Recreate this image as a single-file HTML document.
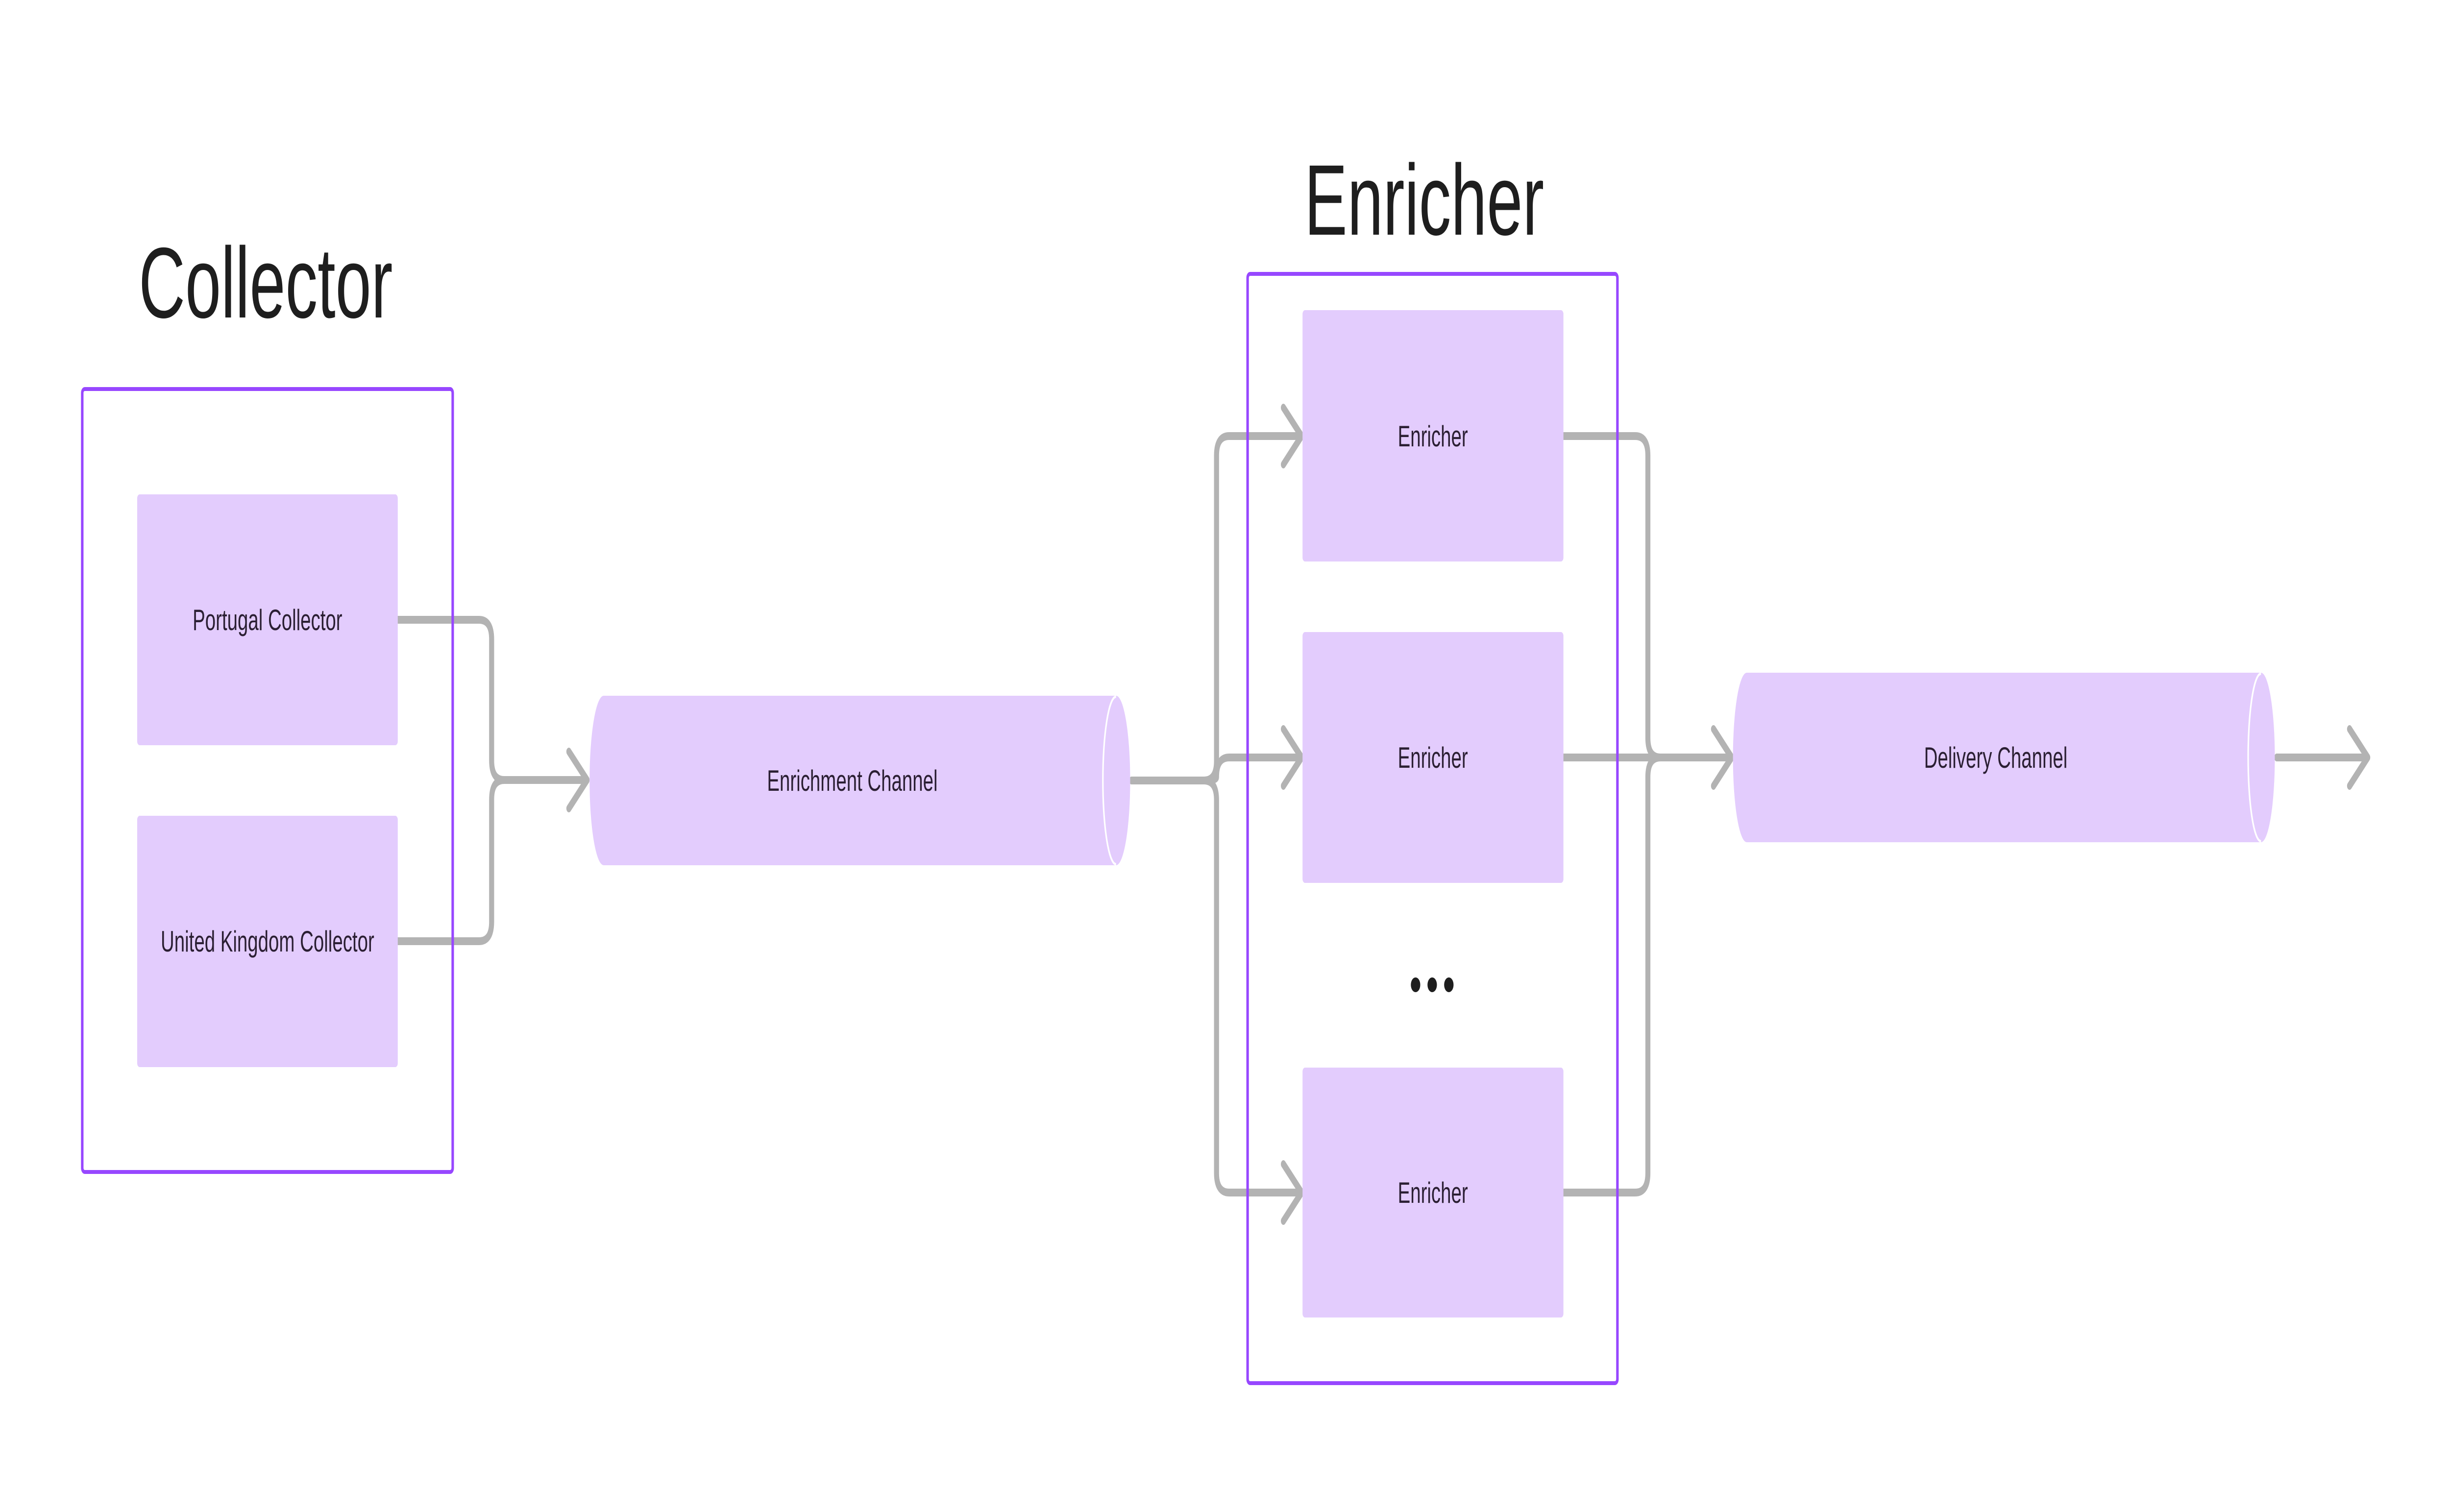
<!DOCTYPE html>
<html><head><meta charset="utf-8"><style>
html,body{margin:0;padding:0;background:#fff;width:100%;height:100%;overflow:hidden;}
svg{display:block;width:100vw;height:100vh;}
text{font-family:"Liberation Sans",sans-serif;}
</style></head><body>
<svg viewBox="0 0 7804 3086" preserveAspectRatio="none" xmlns="http://www.w3.org/2000/svg">
<rect width="7804" height="3086" fill="#fff"/>
<text x="442" y="648" font-size="205" fill="#1e1e1e">Collector</text>
<text x="4155" y="479" font-size="205" fill="#1e1e1e">Enricher</text>

<g fill="none" stroke="#b3b3b3" stroke-width="16" stroke-linecap="round" stroke-linejoin="round">
<path d="M1267,1265 H1526 Q1566,1265 1566,1305 V1552 Q1566,1592 1606,1592 H1868"/>
<path d="M1267,1921 H1526 Q1566,1921 1566,1881 V1632 Q1566,1592 1606,1592"/>
<polyline points="1812,1534 1870,1592 1812,1650"/>

<path d="M3604,1593 H3835 Q3875,1593 3875,1553 V930 Q3875,890 3915,890 H4144"/>
<path d="M3835,1593 Q3875,1593 3875,1586 Q3875,1546 3915,1546 H4144"/>
<path d="M3835,1593 Q3875,1593 3875,1633 V2394 Q3875,2434 3915,2434 H4144"/>
<polyline points="4088,832 4146,890 4088,948"/>
<polyline points="4088,1488 4146,1546 4088,1604"/>
<polyline points="4088,2376 4146,2434 4088,2492"/>

<path d="M4980,890 H5209 Q5249,890 5249,930 V1506 Q5249,1546 5289,1546 H5514"/>
<path d="M4980,1546 H5514"/>
<path d="M4980,2434 H5209 Q5249,2434 5249,2394 V1586 Q5249,1546 5289,1546"/>
<polyline points="5458,1488 5516,1546 5458,1604"/>
<path d="M7252,1546 H7540"/>
<polyline points="7484,1488 7542,1546 7484,1604"/>
</g>

<rect x="262" y="794" width="1180" height="1598" rx="8" fill="none" stroke="#9747ff" stroke-width="8"/>
<rect x="3974" y="559" width="1178" height="2264" rx="8" fill="none" stroke="#9747ff" stroke-width="8"/>

<g fill="#e3ccfd">
<rect x="437" y="1009" width="830" height="512" rx="8"/>
<rect x="437" y="1665" width="830" height="513" rx="8"/>
<rect x="4149" y="633" width="831" height="513" rx="8"/>
<rect x="4149" y="1290" width="831" height="512" rx="8"/>
<rect x="4149" y="2179" width="831" height="510" rx="8"/>
</g>

<path d="M1923,1420 H3555 A45,173 0 0 1 3555,1766 H1923 A45,173 0 0 1 1923,1420 Z" fill="#e3ccfd"/>
<path d="M3555,1422 A42,171 0 0 0 3555,1764" fill="none" stroke="#fff" stroke-width="5"/>
<path d="M5564,1373 H7202 A44,173 0 0 1 7202,1719 H5564 A44,173 0 0 1 5564,1373 Z" fill="#e3ccfd"/>
<path d="M7202,1375 A41,171 0 0 0 7202,1717" fill="none" stroke="#fff" stroke-width="5"/>

<g font-size="60" fill="#2b1f33" text-anchor="middle">
<text x="852" y="1286">Portugal Collector</text>
<text x="852" y="1942">United Kingdom Collector</text>
<text x="2715" y="1614">Enrichment Channel</text>
<text x="4564" y="911">Enricher</text>
<text x="4564" y="1567">Enricher</text>
<text x="4564" y="2455">Enricher</text>
<text x="6357" y="1567">Delivery Channel</text>
</g>
<g fill="#1e1e1e">
<circle cx="4509" cy="2010" r="15"/>
<circle cx="4562" cy="2010" r="15"/>
<circle cx="4615" cy="2010" r="15"/>
</g>
</svg>
</body></html>
